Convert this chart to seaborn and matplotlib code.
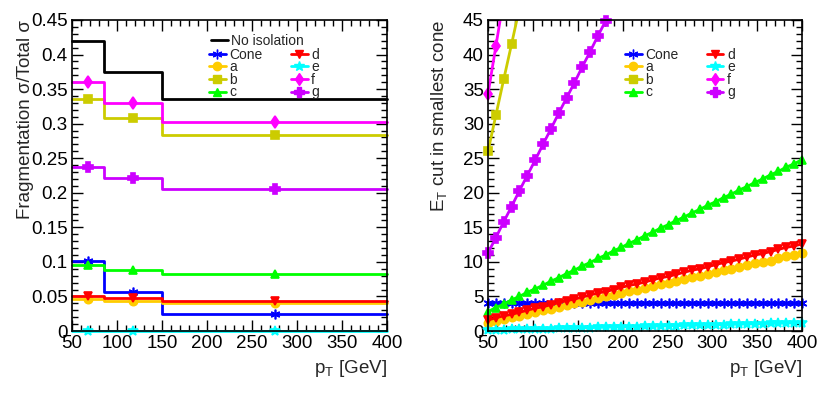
import numpy as np
import pandas as pd
import matplotlib
matplotlib.use("Agg")
import matplotlib.pyplot as plt
from matplotlib.lines import Line2D
from matplotlib.ticker import MultipleLocator, FuncFormatter
import seaborn as sns

# ---- data ----
# left panel: fragmentation fraction in pT bins
bin_edges = [50, 85, 150, 400]
bin_centres = [67.5, 117.5, 275]
frac_noiso = [0.420, 0.375, 0.335]
frac_cone = [0.102, 0.056, 0.025]
frac_a = [0.047, 0.044, 0.040]
frac_b = [0.335, 0.308, 0.284]
frac_c = [0.095, 0.088, 0.082]
frac_d = [0.051, 0.048, 0.043]
frac_e = [0.000, 0.000, 0.000]
frac_f = [0.360, 0.330, 0.303]
frac_g = [0.238, 0.221, 0.206]

# right panel: ET cut vs pT
pt = np.linspace(50, 400, 41)
et_cone = [4.0, 4.0, 4.0, 4.0, 4.0, 4.0, 4.0, 4.0, 4.0, 4.0, 4.0, 4.0, 4.0, 4.0,
           4.0, 4.0, 4.0, 4.0, 4.0, 4.0, 4.0, 4.0, 4.0, 4.0, 4.0, 4.0, 4.0, 4.0,
           4.0, 4.0, 4.0, 4.0, 4.0, 4.0, 4.0, 4.0, 4.0, 4.0, 4.0, 4.0, 4.0]
et_a = [1.2, 1.5, 1.8, 2.0, 2.2, 2.5, 2.8, 3.0, 3.2, 3.5, 3.8, 4.0, 4.2, 4.5,
        4.8, 5.0, 5.2, 5.5, 5.8, 6.0, 6.2, 6.5, 6.8, 7.0, 7.2, 7.5, 7.8, 8.0,
        8.2, 8.5, 8.8, 9.0, 9.2, 9.5, 9.8, 10.0, 10.2, 10.5, 10.8, 11.0, 11.3]
et_b = [26.0, 31.2, 36.4, 41.5, 46.7]
et_c = [2.8, 3.4, 3.9, 4.5, 5.0, 5.6, 6.1, 6.6, 7.2, 7.7, 8.3, 8.8, 9.4, 9.9,
        10.5, 11.0, 11.6, 12.1, 12.7, 13.2, 13.8, 14.3, 14.9, 15.4, 16.0, 16.5,
        17.1, 17.6, 18.2, 18.7, 19.3, 19.8, 20.4, 20.9, 21.5, 22.0, 22.6, 23.1,
        23.7, 24.2, 24.8]
et_d = [1.6, 1.9, 2.2, 2.4, 2.7, 3.0, 3.3, 3.5, 3.8, 4.1, 4.4, 4.6, 4.9, 5.2,
        5.5, 5.7, 6.0, 6.3, 6.6, 6.8, 7.1, 7.4, 7.7, 7.9, 8.2, 8.5, 8.8, 9.0,
        9.3, 9.6, 9.9, 10.1, 10.4, 10.7, 11.0, 11.2, 11.5, 11.8, 12.1, 12.3, 12.6]
et_e = [0.15, 0.18, 0.20, 0.23, 0.25, 0.28, 0.31, 0.33, 0.36, 0.38, 0.41, 0.44,
        0.46, 0.49, 0.51, 0.54, 0.57, 0.59, 0.62, 0.64, 0.67, 0.70, 0.72, 0.75,
        0.77, 0.80, 0.83, 0.85, 0.88, 0.90, 0.93, 0.96, 0.98, 1.01, 1.03, 1.06,
        1.09, 1.11, 1.14, 1.16, 1.19]
et_f = [34.3, 41.2, 48.1]
et_g = [11.3, 13.5, 15.8, 18.0, 20.3, 22.5, 24.7, 27.0, 29.2, 31.5, 33.7,
        35.9, 38.2, 40.4, 42.7, 44.9, 47.1]

names = ['Cone', 'a', 'b', 'c', 'd', 'e', 'f', 'g']
colors = ['#0000ff', '#ffcc00', '#cccc00', '#00ff00',
          '#ff0000', '#00ffff', '#ff00ff', '#cc00ff']
markers = [(6, 2, 0), 'o', 's', '^', 'v', '*', 'd', 'P']
msizes = [7, 6, 6, 6, 6, 7, 6, 7]
frac_all = [frac_cone, frac_a, frac_b, frac_c, frac_d, frac_e, frac_f, frac_g]
et_all = [et_cone, et_a, et_b, et_c, et_d, et_e, et_f, et_g]

sns.set_theme(style="ticks")
plt.rcParams['font.family'] = ['Liberation Sans', 'DejaVu Sans']
plt.rcParams['mathtext.fontset'] = 'custom'
plt.rcParams['mathtext.rm'] = 'Liberation Sans'
plt.rcParams['mathtext.it'] = 'Liberation Sans'

fig = plt.figure(figsize=(8.3, 3.97), dpi=100)
ax1 = fig.add_axes([72 / 830, 66 / 397, 315 / 830, 311 / 397])
ax2 = fig.add_axes([488 / 830, 66 / 397, 314 / 830, 311 / 397])

FS = 13.5


def stepline(ax, vals, color):
    df = pd.DataFrame({'x': bin_edges, 'y': list(vals) + [vals[-1]]})
    sns.lineplot(data=df, x='x', y='y', ax=ax, color=color, lw=2,
                 drawstyle='steps-post', estimator=None, sort=False, clip_on=False)


# left panel
stepline(ax1, frac_noiso, 'black')
for vals, col, mk, ms in zip(frac_all, colors, markers, msizes):
    stepline(ax1, vals, col)
    sns.lineplot(x=bin_centres, y=vals, ax=ax1, color=col, marker=mk,
                 markersize=ms, linestyle='', markeredgecolor=col,
                 markeredgewidth=1.2, clip_on=False, estimator=None)

# right panel
for vals, col, mk, ms in zip(et_all, colors, markers, msizes):
    x = pt[:len(vals)]
    sns.lineplot(x=x, y=vals, ax=ax2, color=col, lw=2, estimator=None, sort=False)
    keep = np.array(vals) <= 45
    sns.lineplot(x=x[keep], y=np.array(vals)[keep], ax=ax2, color=col,
                 marker=mk, markersize=ms, linestyle='', markeredgecolor=col,
                 markeredgewidth=1.2, clip_on=False, estimator=None)

fmt = FuncFormatter(lambda v, p: '%g' % round(v, 6))
for ax in (ax1, ax2):
    ax.set_xlim(50, 400)
    ax.xaxis.set_major_locator(MultipleLocator(50))
    ax.xaxis.set_minor_locator(MultipleLocator(10))
    ax.xaxis.set_major_formatter(fmt)
    ax.yaxis.set_major_formatter(fmt)
    ax.tick_params(which='both', direction='in', top=True, right=True,
                   labelsize=FS, width=1, colors='black', pad=3)
    ax.tick_params(which='major', length=8)
    ax.tick_params(which='minor', length=4)
    for sp in ax.spines.values():
        sp.set_linewidth(1.2)
        sp.set_color('black')
    ax.set_xlabel('p$_{\\mathregular{T}}$ [GeV]', fontsize=FS, loc='right')

ax1.set_ylim(0, 0.45)
ax1.yaxis.set_major_locator(MultipleLocator(0.05))
ax1.yaxis.set_minor_locator(MultipleLocator(0.01))
ax1.set_ylabel('Fragmentation σ/Total σ', fontsize=FS, loc='top')
ax1.yaxis.set_label_coords(-0.12, 1.0)

ax2.set_ylim(0, 45)
ax2.yaxis.set_major_locator(MultipleLocator(5))
ax2.yaxis.set_minor_locator(MultipleLocator(1))
ax2.set_ylabel('E$_{\\mathregular{T}}$ cut in smallest cone', fontsize=FS, loc='top')
ax2.yaxis.set_label_coords(-0.125, 1.0)

# legends
handles = [Line2D([], [], color=c, lw=2, marker=m, markersize=s, markeredgecolor=c)
           for c, m, s in zip(colors, markers, msizes)]
leg_kw = dict(frameon=False, fontsize=10, handlelength=1.2, handletextpad=0.25,
              labelspacing=-0.1, borderpad=0, borderaxespad=0, columnspacing=2.05)

noiso = ax1.legend([Line2D([], [], color='black', lw=2)], ['No isolation'],
                   loc='center left', bbox_to_anchor=(0.441, 0.932), **leg_kw)
ax1.add_artist(noiso)
ax1.legend(handles, names, ncol=2, loc='center left',
           bbox_to_anchor=(0.435, 0.828), **leg_kw)
ax2.legend(handles, names, ncol=2, loc='center left',
           bbox_to_anchor=(0.436, 0.828), **leg_kw)

fig.savefig('out.png', dpi=100)
